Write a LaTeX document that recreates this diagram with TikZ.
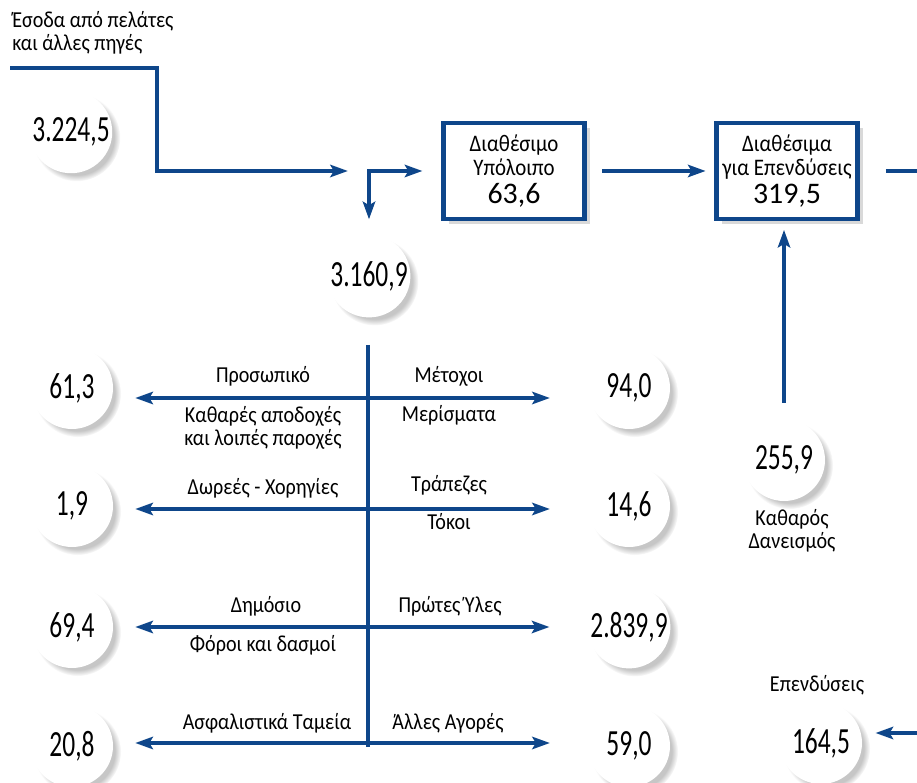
\documentclass[tikz,border=0pt]{standalone}
\usepackage{fontspec}
\setmainfont[FakeStretch=0.88]{Carlito}
\newfontfamily\numfont[FakeStretch=0.69]{Carlito}
\newfontfamily\boxnumfont{Carlito}
\usetikzlibrary{arrows.meta, positioning, shadows}
\definecolor{flowblue}{RGB}{14,70,138}

\begin{document}
\begin{tikzpicture}[x=0.02cm, y=-0.02cm,
    amount/.style={circle, fill=white, minimum size=1.64cm, inner sep=0pt,
        font=\numfont\fontsize{21}{21}\selectfont,
        circular drop shadow={shadow xshift=3pt, shadow yshift=-3pt, shadow scale=1.06, opacity=0.45}},
    account/.style={draw=flowblue, line width=2.4pt, fill=white, minimum width=2.82cm,
        minimum height=1.92cm, align=center, inner sep=0pt, font=\fontsize{13.5}{13.8}\selectfont,
        drop shadow={shadow xshift=3pt, shadow yshift=-3pt, opacity=0.3}},
    lbl/.style={font=\fontsize{13}{13}\selectfont, align=center, inner sep=0pt},
    flowline/.style={draw=flowblue, line width=2.4pt},
    flow/.style={flowline, -{Stealth[length=10pt, width=7pt, inset=2pt]}}]

	\useasboundingbox (0,0) rectangle (917,783);

	% Nodes
	\node[lbl, anchor=north west, align=left] (srcTxt) at (12,11) {Έσοδα από πελάτες\\ και άλλες πηγές};
	\coordinate (src) at (10,68);
	\coordinate (bend) at (157,68);
	\coordinate (split) at (369,171);
	\node[amount] (income) at (71,132) {3.224,5};
	\node[amount] (spent) at (369,276) {3.160,9};
	\node[account] (cash) at (514,171) {Διαθέσιμο\\Υπόλοιπο\\[2pt]{\boxnumfont\fontsize{17}{17}\selectfont 63,6}};
	\node[account] (invest) at (787,171) {Διαθέσιμα\\για Επενδύσεις\\[2pt]{\boxnumfont\fontsize{17}{17}\selectfont 319,5}};
	\coordinate (outR) at (930,171);

	\node[amount] (loan) at (784,460) {255,9};
		\node[lbl, anchor=north] (loanTxt) at (792,509) {Καθαρός\\Δανεισμός};
	\node[amount] (capex) at (821,743) {164,5};
		\node[lbl, anchor=base] (capexTxt) at (817,692) {Επενδύσεις};
	\coordinate (inR) at (930,733);

	% Trunk and rows
	\coordinate (top) at (368,345);
	\coordinate (bot) at (368,747);
	\coordinate (r1) at (368,398);
	\coordinate (r2) at (368,509);
	\coordinate (r3) at (368,627);
	\coordinate (r4) at (368,743);

	\node[amount] (staff) at (72,388) {61,3};
	\node[amount] (grants) at (72,506) {1,9};
	\node[amount] (state) at (72,627) {69,4};
	\node[amount] (funds) at (72,746) {20,8};
	\node[amount] (owners) at (629,388) {94,0};
	\node[amount] (banks) at (629,506) {14,6};
	\node[amount] (supply) at (629,627) {2.839,9};
	\node[amount] (other) at (629,746) {59,0};

	\node[lbl, anchor=base] (staffTop) at (263,383) {Προσωπικό};
	\node[lbl, anchor=north] (staffBot) at (263,406) {Καθαρές αποδοχές\\και λοιπές παροχές};
	\node[lbl, anchor=base] (ownersTop) at (449,383) {Μέτοχοι};
	\node[lbl, anchor=base] (ownersBot) at (449,422) {Μερίσματα};
	\node[lbl, anchor=base] (grantsTop) at (263,495) {Δωρεές - Χορηγίες};
	\node[lbl, anchor=base] (banksTop) at (449,492) {Τράπεζες};
	\node[lbl, anchor=base] (banksBot) at (449,530) {Τόκοι};
	\node[lbl, anchor=base] (stateTop) at (266,613) {Δημόσιο};
	\node[lbl, anchor=base] (stateBot) at (263,652) {Φόροι και δασμοί};
	\node[lbl, anchor=base] (supplyTop) at (450,613) {Πρώτες Ύλες};
	\node[lbl, anchor=base] (fundsTop) at (267,730) {Ασφαλιστικά Ταμεία};
	\node[lbl, anchor=base] (otherTop) at (448,730) {Άλλες Αγορές};

	% Arrows
	\draw[flow, shorten >=12pt] (src) -- (bend) |- (split);
	\draw[flowline, {Stealth[length=10pt, width=7pt, inset=2pt]}-{Stealth[length=10pt, width=7pt, inset=2pt]},
		shorten <=8.5pt, shorten >=10.8pt] (spent) -- (split) -- (cash);
	\draw[flow, shorten <=9pt, shorten >=5pt] (cash) -- (invest);
	\draw[flowline, shorten <=15pt] (invest) -- (outR);
	\draw[flow, shorten <=9pt, shorten >=5pt] (loan) -- (loan |- invest.south);
	\draw[flow, shorten >=7.5pt] (inR) -- (inR -| capex.east);

	\draw[flowline, line width=2.8pt] (top) -- (bot);
	\foreach \row/\lft/\rgt in {r1/staff/owners, r2/grants/banks, r3/state/supply, r4/funds/other} {
		\draw[flow, shorten >=12.5pt] (\row) -- (\row -| \lft.east);
		\draw[flow, shorten >=21.5pt] (\row) -- (\row -| \rgt.west);
	}

\end{tikzpicture}
\end{document}
